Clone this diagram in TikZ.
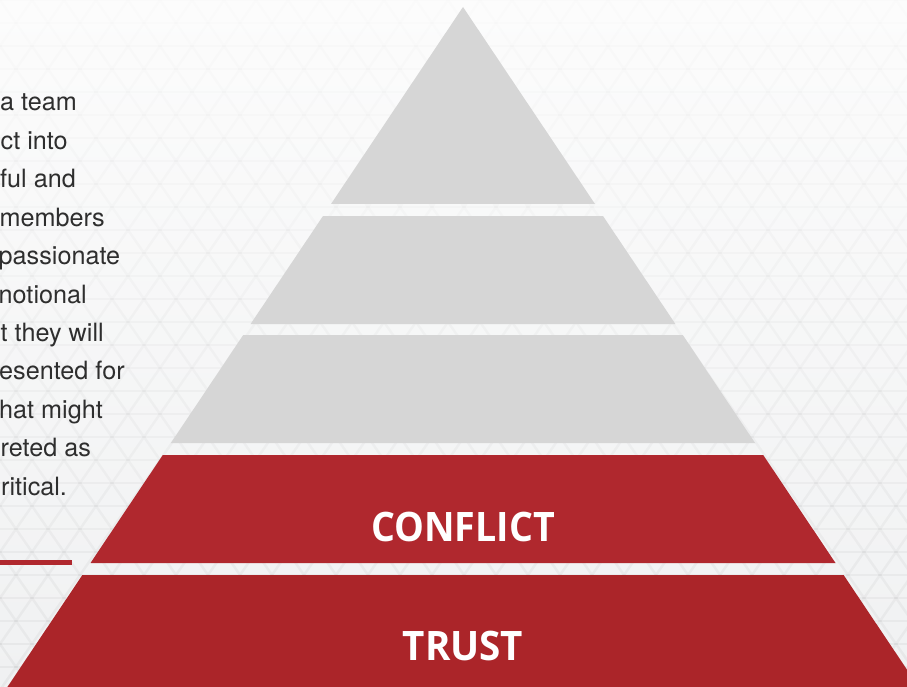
\documentclass[tikz,border=0pt]{standalone}
\usepackage{fontspec}
\setmainfont{TeX Gyre Heros}
\newfontfamily\labelfont{Open Sans}
\definecolor{layergray}{HTML}{D6D6D6}
\definecolor{redtop}{HTML}{B0282E}
\definecolor{redbot}{HTML}{AB2529}
\definecolor{bodytext}{HTML}{2E2E2E}
\definecolor{bgtop}{HTML}{FCFCFC}
\definecolor{bgbot}{HTML}{F0F1F2}
\begin{document}
\begin{tikzpicture}[x=1pt,y=-1pt,
  graylayer/.style={fill=layergray},
  conflictlayer/.style={fill=redtop},
  trustlayer/.style={fill=redbot},
  bodyline/.style={anchor=base west, inner sep=0pt, font=\fontsize{25.2}{30}\selectfont, text=bodytext},
  layerlabel/.style={inner sep=0pt, text=white, font=\labelfont\bfseries\fontsize{40.6}{44}\selectfont}]
\useasboundingbox (0,0) rectangle (907,687);
\clip (0,0) rectangle (907,687);
\shade[top color=bgtop,bottom color=bgbot] (0,0) rectangle (907,687);
% subtle triangle pattern
\foreach \r in {0,...,30} {
  \pgfmathsetmacro\op{0.008+0.032*\r/30}
  \pgfmathsetmacro\yt{\r*23}
  \pgfmathsetmacro\off{mod(\r,2)*16}
  \draw[black, opacity=\op, line width=2.5pt] (-40,\yt) -- (950,\yt);
  \draw[black, opacity=\op, line width=2.5pt]
    \foreach \j in {-1,...,30} { (\j*32+\off,\yt) -- ++(16,23) (\j*32+\off,\yt) -- ++(-16,23) };
}
% pyramid
\fill[graylayer] (463,7) -- (595,204) -- (331,204) -- cycle;
\fill[graylayer] (323,216) -- (603,216) -- (675.4,324) -- (250.6,324) -- cycle;
\fill[graylayer] (243.2,335) -- (682.8,335) -- (755.1,443) -- (170.9,443) -- cycle;
\fill[conflictlayer] (162.8,455) -- (763.2,455) -- (835.5,563) -- (90.5,563) -- cycle;
\fill[trustlayer] (82.4,575) -- (843.6,575) -- (927.3,700) -- (-1.3,700) -- cycle;
\node[layerlabel] (conflict) at (463,526.5) {\scalebox{0.925}[1]{CONFLICT}};
\node[layerlabel] (trust) at (463,646) {\scalebox{0.95}[1]{TRUST}};
% rule
\fill[redtop] (0,560) rectangle (72,564.5);
% body text
\node[bodyline] (l1) at (0,111) {a team};
\node[bodyline] (l2) at (0.5,149.4) {ct into};
\node[bodyline] (l3) at (0,187.8) {ful and};
\node[bodyline] (l4) at (-0.5,226.2) {members};
\node[bodyline] (l5) at (-1.5,264.6) {passionate};
\node[bodyline] (l6) at (-1.5,303) {notional};
\node[bodyline] (l7) at (0.5,341.4) {t they will};
\node[bodyline] (l8) at (-1,379.8) {esented for};
\node[bodyline] (l9) at (-1,418.2) {hat might};
\node[bodyline] (l10) at (0.5,456.6) {reted as};
\node[bodyline] (l11) at (1,495) {ritical.};
\end{tikzpicture}
\end{document}
